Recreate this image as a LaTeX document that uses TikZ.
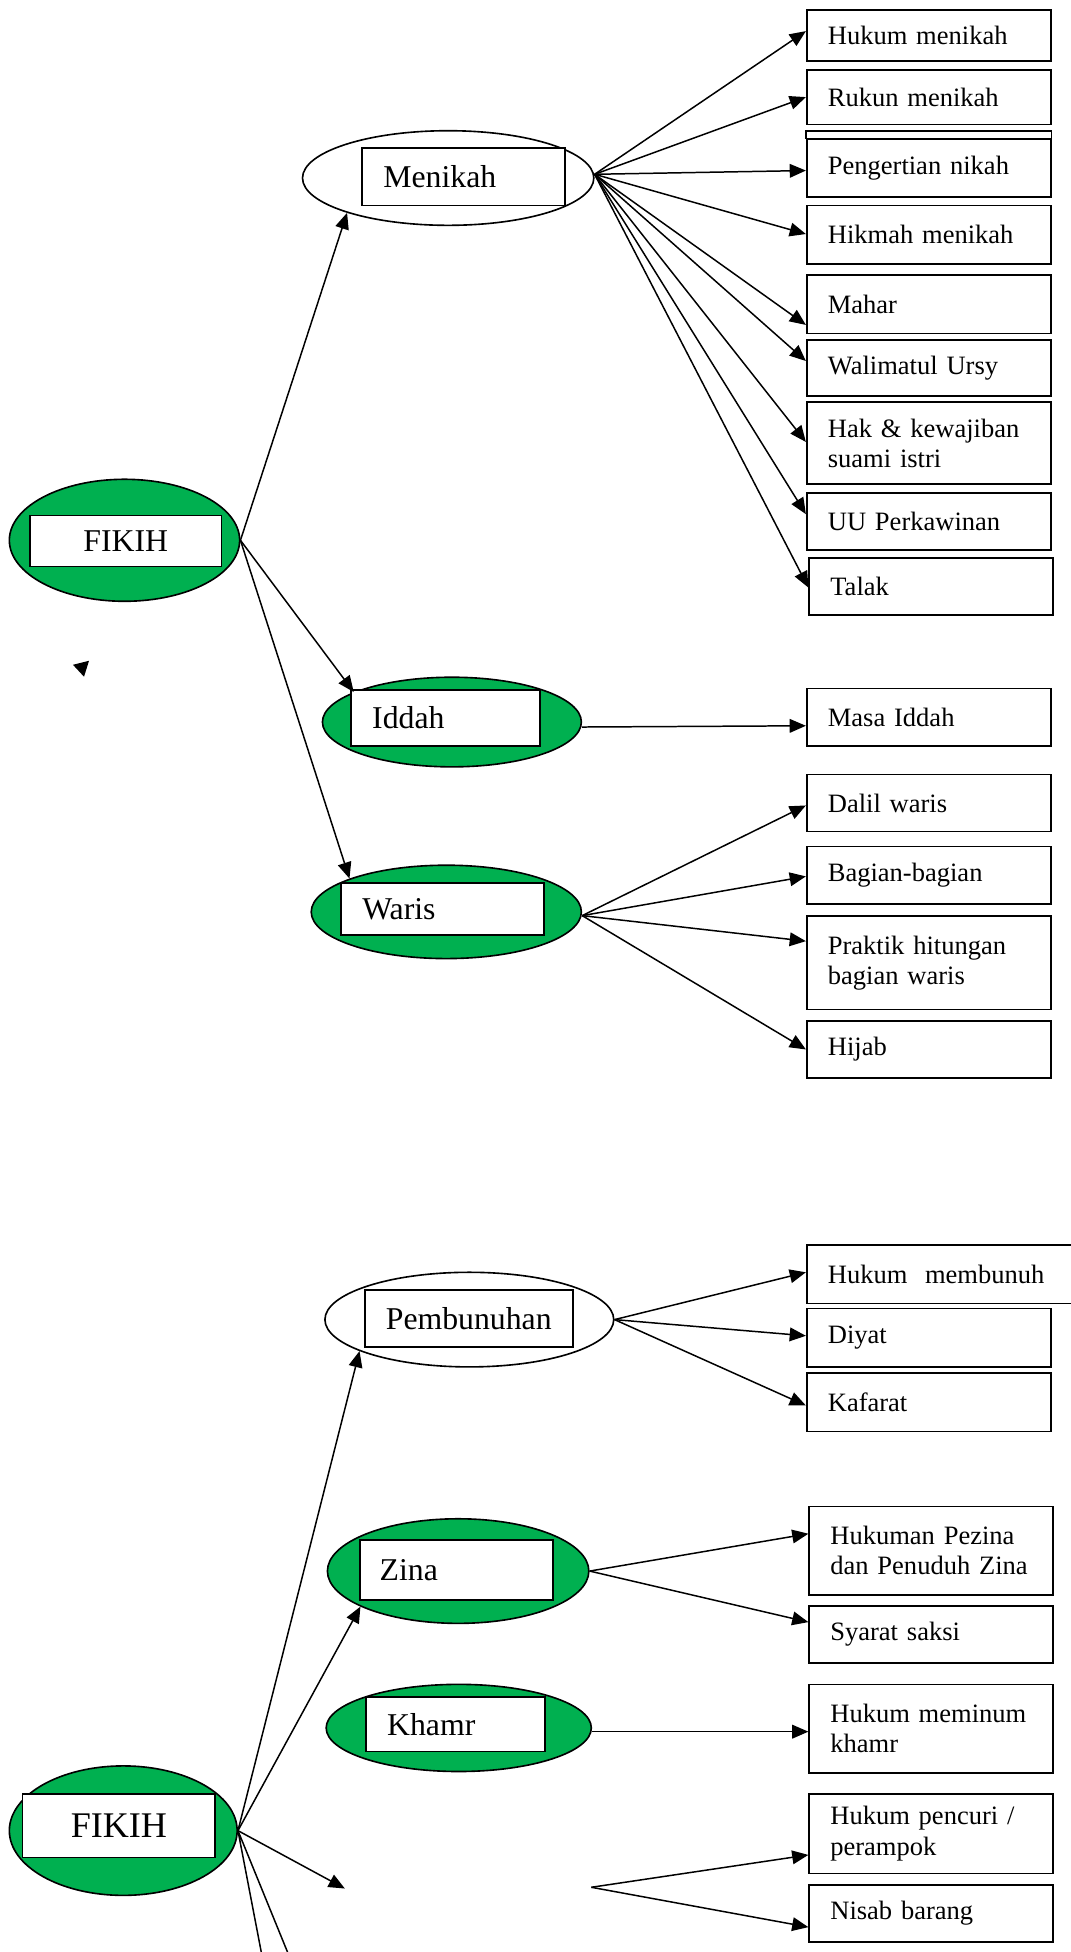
\documentclass[tikz,border=0pt]{standalone}
\usepackage{fontspec}
\setmainfont{Liberation Serif}
\usetikzlibrary{shapes.geometric,arrows.meta}
\definecolor{hijau}{RGB}{0,176,80}
\newcommand{\hurufisi}{\fontsize{21.3}{24.5}\selectfont}
\newcommand{\hurufjudul}{\fontsize{25.5}{30}\selectfont}

\begin{document}
\begin{tikzpicture}[x=1pt,y=-1pt,line width=1.2pt,
    oval/.style={ellipse,draw,line width=1.3pt,inner sep=0pt},
    judul/.style={draw,fill=white,line width=1.4pt,inner xsep=17pt,inner ysep=0pt,align=left,font=\hurufjudul},
    isi/.style={draw,line width=1.3pt,inner xsep=17pt,inner ysep=0pt,align=left,text width=162pt,font=\hurufisi},
    panah/.style={-{Triangle[length=13pt,width=11pt]}}]
  \useasboundingbox (0,0) rectangle (860,1568);
  \begin{scope}
    \node[oval,fill=hijau,minimum width=185pt,minimum height=98pt](fikihA)at(100,434){};
    \node[oval,fill=white,minimum width=234pt,minimum height=76pt](menikah)at(360,143){};
    \node[oval,fill=hijau,minimum width=208pt,minimum height=72pt](iddah)at(363,580){};
    \node[oval,fill=hijau,minimum width=217pt,minimum height=75pt](waris)at(358.5,732.5){};
    \node[judul,align=center,text width=120pt,minimum height=41pt](fikihAbox)at(101,434.5){FIKIH};
    \node[judul,text width=129pt,minimum height=46pt](menikahbox)at(372.5,142){Menikah};
    \node[judul,text width=118pt,minimum height=45pt](iddahbox)at(358,576.5){Iddah};
    \node[judul,text width=129pt,minimum height=42pt](warisbox)at(355.5,730){Waris};
    \node[isi,minimum height=41pt](hukumNikah)at(746,28.5){Hukum menikah};
    \node[isi,minimum height=44pt](rukun)at(746,78){Rukun menikah};
    \node[isi,minimum height=46pt](pengertian)at(746,135){Pengertian nikah};
    \draw[line width=1.3pt](pengertian.north west)rectangle([yshift=6pt]pengertian.north east);
    \node[isi,minimum height=47pt](hikmah)at(746,188.5){Hikmah menikah};
    \node[isi,minimum height=47pt](mahar)at(746,244.5){Mahar};
    \node[isi,minimum height=45pt](walimah)at(746,295.5){Walimatul Ursy};
    \node[isi,minimum height=66pt](hakIstri)at(746,356){Hak \& kewajiban\\suami istri};
    \node[isi,minimum height=46pt](uu)at(746,419){UU Perkawinan};
    \node[isi,minimum height=46pt](talak)at(748,471){Talak};
    \node[isi,minimum height=46pt](masa)at(746,576){Masa Iddah};
    \node[isi,minimum height=46pt](dalil)at(746,645){Dalil waris};
    \node[isi,minimum height=46pt](bagian)at(746,703){Bagian-bagian};
    \node[isi,minimum height=75pt](praktik)at(746,773.5){Praktik hitungan\\bagian waris};
    \node[isi,minimum height=46pt](hijab)at(746,843){Hijab};
    \draw[panah](fikihA.east)--(menikah.199);
    \draw[panah](fikihA.east)--(iddah.163);
    \draw[panah](fikihA.east)--(waris.161);
    \foreach \kotak/\geser in {hukumNikah/3.5pt,rukun/0pt,pengertian/-2pt,hikmah/0.5pt,mahar/-16.5pt,walimah/5.5pt,hakIstri/1pt,uu/6pt,talak/-1pt}
      \draw[panah]([yshift=3pt]menikah.east)--([yshift=\geser]\kotak.west);
    \draw[panah]([yshift=-4pt]iddah.east)--([yshift=-7pt]masa.west);
    \foreach \kotak/\geser in {dalil/-2pt,bagian/-1pt,praktik/17.5pt,hijab/0pt}
      \draw[panah]([yshift=-3pt]waris.east)--([yshift=\geser]\kotak.west);
    % \draw[panah](fikihA.south)--(...);
    \fill(58.6,534)--(71.5,530.8)--(67.5,543.6)--cycle;
  \end{scope}
  \begin{scope}
    \node[oval,fill=hijau,minimum width=183pt,minimum height=104pt](fikihB)at(99,1470.5){};
    \node[oval,fill=white,minimum width=232pt,minimum height=76pt](pembunuhan)at(377,1060){};
    \node[oval,fill=hijau,minimum width=210pt,minimum height=84pt](zina)at(368,1262){};
    \node[oval,fill=hijau,minimum width=213pt,minimum height=70pt](khamr)at(368.5,1388){};
    \node[judul,align=center,text width=121pt,minimum height=51pt,font=\fontsize{29}{34}\selectfont](fikihBbox)at(95.5,1466.5){FIKIH};
    \node[judul,text width=133pt,minimum height=46pt](pembunuhanbox)at(376.5,1059){Pembunuhan};
    \node[judul,inner xsep=16pt,text width=123pt,minimum height=48pt](zinabox)at(366.5,1261){Zina};
    \node[judul,text width=110pt,minimum height=44pt](khamrbox)at(366,1385){Khamr};
    \node[isi,text width=180pt,minimum height=47pt](hukumBunuh)at(755,1023.5){Hukum\ \ membunuh};
    \node[isi,minimum height=47pt](diyat)at(746,1074.5){Diyat};
    \node[isi,minimum height=47pt](kafarat)at(746,1126.5){Kafarat};
    \node[isi,minimum height=71pt](hukumZina)at(748,1245.5){Hukuman Pezina\\dan Penuduh Zina};
    \node[isi,minimum height=46pt](saksi)at(748,1313){Syarat saksi};
    \node[isi,minimum height=71pt](hukumKhamr)at(748,1388.5){Hukum meminum\\khamr};
    \node[isi,minimum height=64pt](pencuri)at(748,1473){Hukum pencuri /\\perampok};
    \node[isi,minimum height=46pt](nisab)at(748,1537){Nisab barang};
    \coordinate(curiKiri)at(277,1517);
    \coordinate(curiKanan)at(475,1516);
    \coordinate(bawahA)at(216,1600);
    \coordinate(bawahB)at(244,1600);
    \draw[panah](fikihB.east)--(pembunuhan.196);
    \draw[panah](fikihB.east)--(zina.200);
    \draw[panah](fikihB.east)--(curiKiri);
    \draw(fikihB.east)--(bawahA) (fikihB.east)--(bawahB);
    \foreach \kotak/\geser in {hukumBunuh/1.5pt,diyat/1.5pt,kafarat/-2.5pt}
      \draw[panah](pembunuhan.east)--([yshift=\geser]\kotak.west);
    \foreach \kotak/\geser in {hukumZina/13.5pt,saksi/10pt}
      \draw[panah](zina.east)--([yshift=\geser]\kotak.west);
    \draw[panah]([yshift=-3pt]khamr.east)--([yshift=-2.5pt]hukumKhamr.west);
    \foreach \kotak/\geser in {pencuri/-17pt,nisab/-11pt}
      \draw[panah](curiKanan)--([yshift=\geser]\kotak.west);
  \end{scope}
\end{tikzpicture}
\end{document}
